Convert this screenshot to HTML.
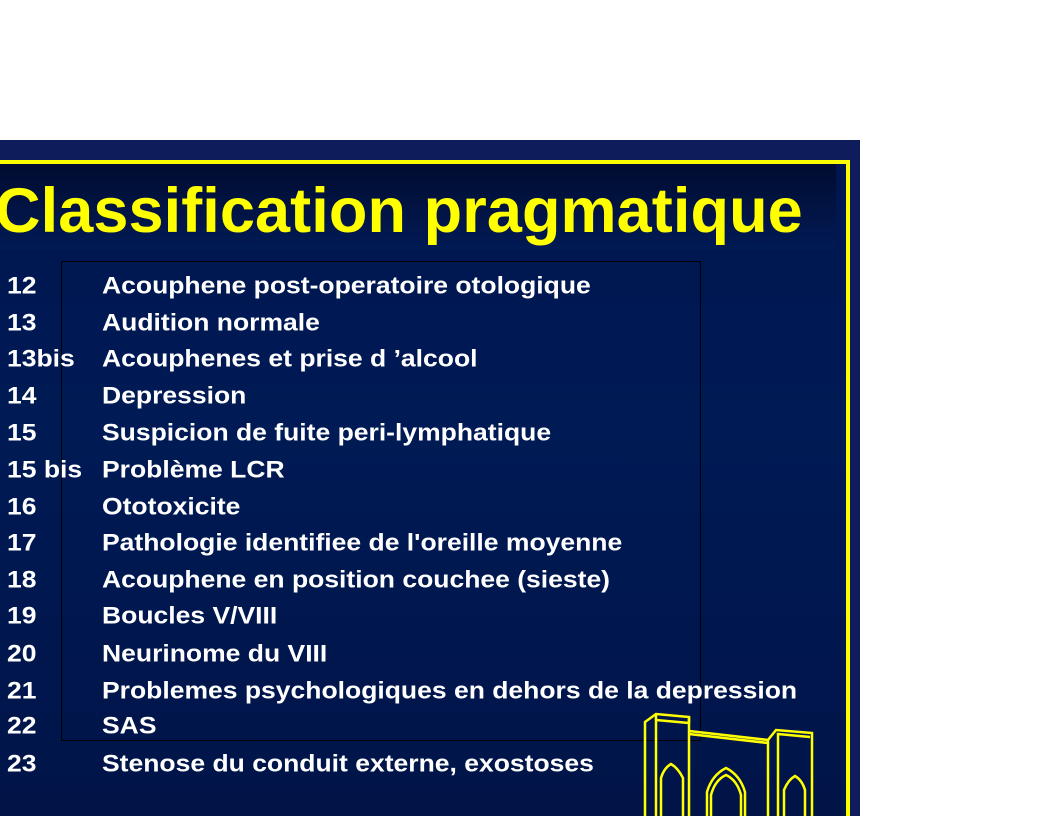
<!DOCTYPE html>
<html><head><style>
body{margin:0;width:1056px;height:816px;background:#fff;position:relative;overflow:hidden;font-family:"Liberation Sans",Arial,sans-serif}
#bg{position:absolute;left:0;top:140px;width:860px;height:676px;background:#0f1c5c}
#inner{position:absolute;left:0;top:164px;width:846px;height:652px;background:linear-gradient(#001650,#001a55 40%,#001448)}
#tband{position:absolute;left:0;top:164px;width:836px;height:86px;background:linear-gradient(#000c30,#02164a 70%,#001a55)}
.yl{position:absolute;background:#ffff00}
#title{position:absolute;left:-5px;top:175px;font-size:63px;font-weight:bold;color:#ffff00;white-space:nowrap;letter-spacing:0.1px}
.r{position:absolute;color:#fff;font-weight:bold;font-size:26.5px;white-space:nowrap;line-height:28px;transform-origin:0 50%;transform:scaleY(0.92)}
#box{position:absolute;left:61px;top:261px;width:638px;height:478px;border:1px solid #000}
</style></head><body>
<div id="bg"></div><div id="inner"></div><div id="tband"></div>
<div class="yl" style="left:0;top:160px;width:850px;height:4px"></div>
<div class="yl" style="left:846px;top:160px;width:4px;height:656px"></div>
<div id="title">Classification pragmatique</div>
<div id="box"></div>
<div class="r" style="left:7px;top:271px">12</div><div class="r" style="left:102px;top:271px">Acouphene post-operatoire otologique</div>
<div class="r" style="left:7px;top:308px">13</div><div class="r" style="left:102px;top:308px">Audition normale</div>
<div class="r" style="left:7px;top:344px">13bis</div><div class="r" style="left:102px;top:344px">Acouphenes et prise d ’alcool</div>
<div class="r" style="left:7px;top:381px">14</div><div class="r" style="left:102px;top:381px">Depression</div>
<div class="r" style="left:7px;top:418px">15</div><div class="r" style="left:102px;top:418px">Suspicion de fuite peri-lymphatique</div>
<div class="r" style="left:7px;top:455px">15 bis</div><div class="r" style="left:102px;top:455px">Problème LCR</div>
<div class="r" style="left:7px;top:492px">16</div><div class="r" style="left:102px;top:492px">Ototoxicite</div>
<div class="r" style="left:7px;top:528px">17</div><div class="r" style="left:102px;top:528px">Pathologie identifiee de l'oreille moyenne</div>
<div class="r" style="left:7px;top:565px">18</div><div class="r" style="left:102px;top:565px">Acouphene en position couchee (sieste)</div>
<div class="r" style="left:7px;top:601px">19</div><div class="r" style="left:102px;top:601px">Boucles V/VIII</div>
<div class="r" style="left:7px;top:639px">20</div><div class="r" style="left:102px;top:639px">Neurinome du VIII</div>
<div class="r" style="left:7px;top:676px">21</div><div class="r" style="left:102px;top:676px">Problemes psychologiques en dehors de la depression</div>
<div class="r" style="left:7px;top:711px">22</div><div class="r" style="left:102px;top:711px">SAS</div>
<div class="r" style="left:7px;top:749px">23</div><div class="r" style="left:102px;top:749px">Stenose du conduit externe, exostoses</div>
<svg style="position:absolute;left:0;top:0" width="1056" height="816">
<g fill="none" stroke="#ffff00" stroke-width="2.5">
<path d="M645 816 V722 L656 714 L689 717 V816"/>
<path d="M656 816 V720 L689 723"/>
<path d="M656 714 V720 M689 717 L689 723"/>
<path d="M689 731 L768 740 M689 734 L768 743"/>
<path d="M768 816 V740 L776 730 L812 733 V816"/>
<path d="M778 816 V734 L810 737"/>
<path d="M661 816 V778 Q664 768 671 764 Q678 768 683 778 V816"/>
<path d="M707 816 V792 Q712 775 726 768 Q740 775 745 792 V816"/>
<path d="M711 816 V795 Q715 780 726 775 Q737 780 741 795 V816"/>
<path d="M784 816 V790 Q788 780 795 776 Q802 780 805 790 V816"/>
</g></svg>
</body></html>
